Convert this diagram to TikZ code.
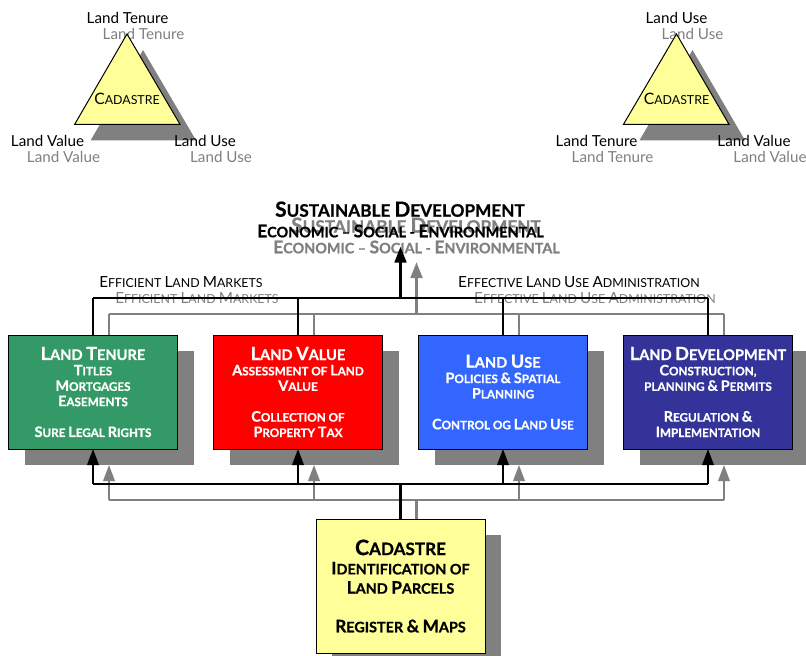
\documentclass[tikz,border=0pt]{standalone}
\usepackage{fontspec}
\setmainfont{Lato}[BoldFeatures={FakeBold=0.8}]
\usetikzlibrary{arrows.meta,calc}
\definecolor{ggray}{HTML}{808080}
\definecolor{cady}{HTML}{FFFF99}
\definecolor{cgreen}{HTML}{339966}
\definecolor{cred}{HTML}{FF0000}
\definecolor{cblue}{HTML}{3366FF}
\definecolor{cnavy}{HTML}{333399}
\def\bsz{15}
\newcommand\B[1]{{\fontsize{\bsz}{\bsz}\selectfont #1}}
\newcommand\SC[3]{{\def\bsz{#2}\fontsize{#1}{#1}\selectfont #3}}
% boxed text: small-cap size, capital size
\newcommand\Tl[1]{{\def\bsz{18.1}\fontsize{14.6}{14.6}\selectfont #1}}
\newcommand\Tc[1]{{\def\bsz{21.2}\fontsize{17.1}{17.1}\selectfont #1}}
\tikzset{
  x=1pt,y=-1pt,
  lab/.style={anchor=base,inner sep=0,outer sep=0,font=\fontsize{15.2}{15.2}\selectfont},
  sclab/.style={anchor=base,inner sep=0,outer sep=0},
  bx/.style={draw=black,line width=1pt,minimum width=169pt,minimum height=114pt,inner sep=0,outer sep=0,align=center,text=white,
    font=\bfseries\def\bsz{14.4}\fontsize{11.7}{15.4}\selectfont},
  cbx/.style={draw=black,line width=1pt,fill=cady,minimum width=169pt,minimum height=134pt,inner sep=0,outer sep=0,align=center,text=black,
    font=\bfseries\def\bsz{17.25}\fontsize{14.4}{19.3}\selectfont},
  sh/.style={fill=ggray,draw=none,minimum width=169pt,minimum height=114pt,inner sep=0,outer sep=0},
  tri/.style={draw=black,line width=1pt,fill=cady,line join=miter},
  wire/.style={line width=2pt},
  trunk/.style={line width=3pt},
  tipped/.style={-{Triangle[length=16pt,width=11.5pt]}},
}
\begin{document}
\begin{tikzpicture}
\clip (0,0) rectangle (806,656);
\fill[white] (0,0) rectangle (806,656);

%% ---- shadow layer: gray text
\begin{scope}[text=ggray]
\node[lab] (gt1) at (143.5,39.3) {Land Tenure};
\node[lab] (gt2) at (63.5,162.3) {Land Value};
\node[lab] (gt3) at (221,162.3) {Land Use};
\node[lab] (gt4) at (692.5,39.3) {Land Use};
\node[lab] (gt5) at (612.5,162.3) {Land Tenure};
\node[lab] (gt6) at (770,162.3) {Land Value};
\node[sclab] (gsd) at (416,232.7) {\bfseries\SC{17.2}{20.8}{\B{S}USTAINABLE \B{D}EVELOPMENT}};
\node[sclab] (gse) at (416.5,253.3) {\bfseries\SC{14.4}{17.4}{\B{E}CONOMIC – \B{S}OCIAL - \B{E}NVIRONMENTAL}};
\node[sclab] (gem) at (197,303.7) {\SC{12.4}{15.3}{\B{E}FFICIENT \B{L}AND \B{M}ARKETS}};
\node[sclab] (gea) at (595,303.7) {\SC{12.4}{15.3}{\B{E}FFECTIVE \B{L}AND \B{U}SE \B{A}DMINISTRATION}};
\end{scope}

%% ---- shadow nodes
\fill[ggray] (143,50) -- (90.7,140.3) -- (196,140.3) -- cycle;
\fill[ggray] (692.5,50) -- (639.5,140.3) -- (745,140.3) -- cycle;
\node[sh] (stenure) at (109,408) {};
\node[sh] (svalue)  at (314,408) {};
\node[sh] (suse)    at (519,408) {};
\node[sh] (sdev)    at (724,408) {};
\node[sh,minimum height=134pt] (scad) at (416.5,602) {};
\coordinate (gbus) at (416.5,500);
\coordinate (gtop) at (416.5,314);

%% ---- shadow connectors
\draw[wire,ggray] (gbus -| stenure.north) -- (gbus -| sdev.north);
\draw[trunk,ggray] (scad.north) -- (gbus);
\foreach \n in {stenure,svalue,suse,sdev}{
  \draw[wire,ggray,tipped] (gbus -| \n.south) -- (\n.south);
  \draw[wire,ggray] (\n.north) -- (gtop -| \n.north);
}
\draw[wire,ggray] (gtop -| stenure.north) -- (gtop -| sdev.north);
\draw[trunk,ggray,tipped] (gtop) -- (416.5,262);

%% ---- triangles
\draw[tri] (127,34) -- (74.7,124.3) -- (180,124.3) -- cycle;
\draw[tri] (676.5,34) -- (623.5,124.3) -- (729,124.3) -- cycle;
\node[sclab,text=black] (tc1) at (127,104) {\SC{12.4}{15.7}{\B{C}ADASTRE}};
\node[sclab,text=black] (tc2) at (676.5,104) {\SC{12.4}{15.7}{\B{C}ADASTRE}};

%% ---- main boxes
\node[bx,fill=cgreen] (tenure) at (93,392) {\Tl{\B{L}AND \B{T}ENURE}\\\B{T}ITLES\\\B{M}ORTGAGES\\\B{E}ASEMENTS\\[15.4pt]\B{S}URE \B{L}EGAL \B{R}IGHTS};
\node[bx,fill=cred] (value) at (298,392) {\Tl{\B{L}AND \B{V}ALUE}\\\B{A}SSESSMENT OF \B{L}AND\\\B{V}ALUE\\[15.4pt]\B{C}OLLECTION OF\\\B{P}ROPERTY \B{T}AX};
\node[bx,fill=cblue] (use) at (503,392) {\Tl{\B{L}AND \B{U}SE}\\\B{P}OLICIES \B{\&} \B{S}PATIAL\\\B{P}LANNING\\[15.4pt]\B{C}ONTROL OG \B{L}AND \B{U}SE};
\node[bx,fill=cnavy] (dev) at (708,392) {\Tl{\B{L}AND \B{D}EVELOPMENT}\\\B{C}ONSTRUCTION,\\PLANNING \B{\&} \B{P}ERMITS\\[15.4pt]\B{R}EGULATION \B{\&}\\\B{I}MPLEMENTATION};
\node[cbx] (cad) at (400.5,586) {\Tc{\B{C}ADASTRE}\\\B{I}DENTIFICATION OF\\\B{L}AND \B{P}ARCELS\\[19.3pt]\B{R}EGISTER \B{\&} \B{M}APS};
\coordinate (bus) at (400.5,484);
\coordinate (top) at (400.5,298);

%% ---- black connectors
\draw[wire] (bus -| tenure.north) -- (bus -| dev.north);
\draw[trunk] (cad.north) -- (bus);
\foreach \n in {tenure,value,use,dev}{
  \draw[wire,tipped] (bus -| \n.south) -- (\n.south);
  \draw[wire] (\n.north) -- (top -| \n.north);
}
\draw[wire] (top -| tenure.north) -- (top -| dev.north);
\draw[trunk,tipped] (top) -- (400.5,246.5);

%% ---- black text
\node[lab] (t1) at (127.5,23.3) {Land Tenure};
\node[lab] (t2) at (47.5,146.3) {Land Value};
\node[lab] (t3) at (205,146.3) {Land Use};
\node[lab] (t4) at (676.5,23.3) {Land Use};
\node[lab] (t5) at (596.5,146.3) {Land Tenure};
\node[lab] (t6) at (754,146.3) {Land Value};
\node[sclab] (sd) at (400,216.7) {\bfseries\SC{17.2}{20.8}{\B{S}USTAINABLE \B{D}EVELOPMENT}};
\node[sclab] (se) at (400.5,237.3) {\bfseries\SC{14.4}{17.4}{\B{E}CONOMIC – \B{S}OCIAL - \B{E}NVIRONMENTAL}};
\node[sclab] (em) at (181,287.7) {\SC{12.4}{15.3}{\B{E}FFICIENT \B{L}AND \B{M}ARKETS}};
\node[sclab] (ea) at (579,287.7) {\SC{12.4}{15.3}{\B{E}FFECTIVE \B{L}AND \B{U}SE \B{A}DMINISTRATION}};
\end{tikzpicture}
\end{document}
